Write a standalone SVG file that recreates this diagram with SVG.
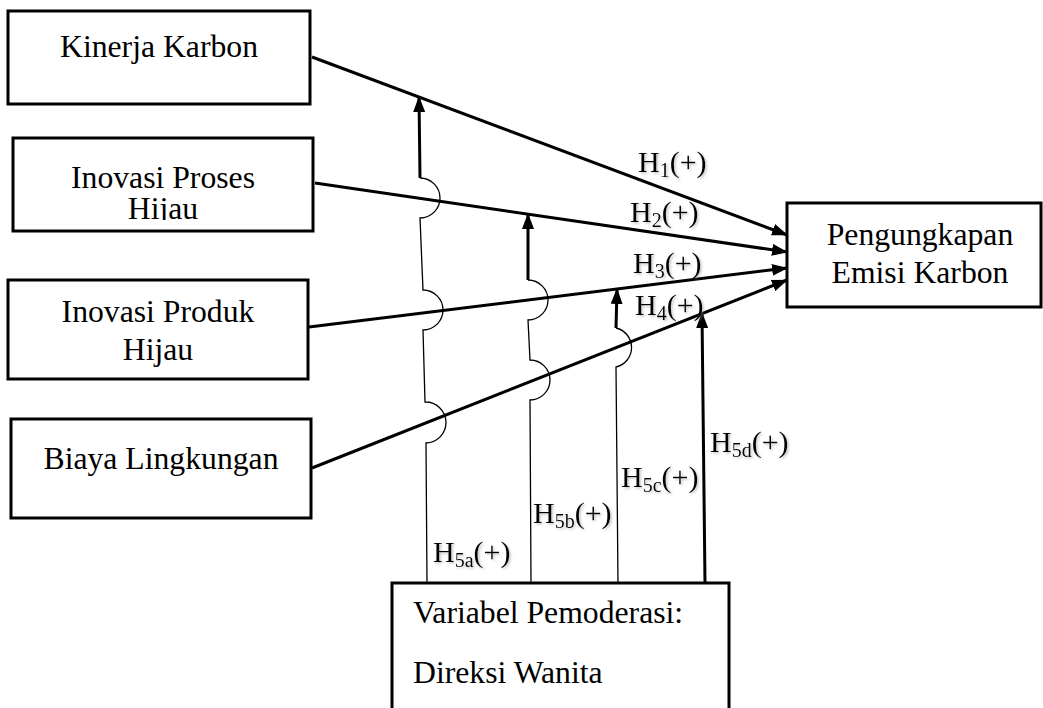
<svg xmlns="http://www.w3.org/2000/svg" width="1043" height="708" viewBox="0 0 1043 708">
<style>
.box{fill:#fff;stroke:#000;stroke-width:3}
text{font-family:'Liberation Serif','Tinos','Times New Roman','Noto Serif','DejaVu Serif',serif}
.t{font-size:31.7px;fill:#000}
.lbl{font-size:30px;fill:#000;filter:url(#sh)}
.sub{font-size:20px}
.thick{fill:none;stroke:#000;stroke-width:3}
.thin{fill:none;stroke:#000;stroke-width:1.3}
</style>
<defs>
<marker id="ah" viewBox="0 0 16 12" refX="15" refY="6" markerWidth="16" markerHeight="12" markerUnits="userSpaceOnUse" orient="auto">
<path d="M0,0 L16,6 L0,12 z" fill="#000"/>
</marker>
<filter id="sh" x="-10%" y="-10%" width="130%" height="140%">
<feDropShadow dx="1.5" dy="1.5" stdDeviation="1" flood-color="#888" flood-opacity="0.5"/>
</filter>
<clipPath id="clipHijau"><rect x="13" y="138" width="300" height="82"/></clipPath>
</defs>

<g id="node-kinerja">
<rect class="box" x="8" y="11" width="302" height="93"/>
<text class="t" x="159" y="57" text-anchor="middle">Kinerja Karbon</text>
</g>
<g id="node-proses">
<rect class="box" x="13" y="138" width="300" height="93"/>
<g clip-path="url(#clipHijau)">
<text class="t" x="163" y="188" text-anchor="middle">Inovasi Proses</text>
<text class="t" x="163" y="219" text-anchor="middle">Hijau</text>
</g>
</g>
<g id="node-produk">
<rect class="box" x="8" y="280" width="300" height="99"/>
<text class="t" x="158" y="322" text-anchor="middle">Inovasi Produk</text>
<text class="t" x="158" y="360" text-anchor="middle">Hijau</text>
</g>
<g id="node-biaya">
<rect class="box" x="11" y="419" width="300" height="99"/>
<text class="t" x="161" y="469" text-anchor="middle">Biaya Lingkungan</text>
</g>
<g id="node-emisi">
<rect class="box" x="787" y="203" width="254" height="104"/>
<text class="t" x="920" y="245" text-anchor="middle">Pengungkapan</text>
<text class="t" x="920" y="283" text-anchor="middle">Emisi Karbon</text>
</g>
<g id="node-moderator">
<path class="box" d="M392,712 L392,583 L729,583 L729,712"/>
<text class="t" x="413" y="623">Variabel Pemoderasi:</text>
<text class="t" x="413" y="683">Direksi Wanita</text>
</g>

<g id="connectors">
<line class="thick" x1="312" y1="57" x2="787" y2="235" marker-end="url(#ah)"/>
<line class="thick" x1="315" y1="183" x2="787" y2="252" marker-end="url(#ah)"/>
<line class="thick" x1="309" y1="327" x2="787" y2="268" marker-end="url(#ah)"/>
<line class="thick" x1="312" y1="468" x2="787" y2="280" marker-end="url(#ah)"/>

<path class="thin" d="M427,583 L426,443 A20,20 0 0,0 425,402 L423,330 A20,20 0 0,0 423,290 L420,218 A20,20 0 0,0 420,178"/>
<line class="thick" x1="420" y1="178" x2="419" y2="97" marker-end="url(#ah)"/>
<path class="thin" d="M531,583 L530,400 A20,20 0 0,0 530,360 L528,320 A20,20 0 0,0 528,280"/>
<line class="thick" x1="528" y1="280" x2="528" y2="214" marker-end="url(#ah)"/>
<path class="thin" d="M618,583 L616,367 A20,20 0 0,0 616,328"/>
<line class="thick" x1="616" y1="328" x2="617" y2="289" marker-end="url(#ah)"/>
<line class="thick" x1="705" y1="583" x2="702" y2="313" marker-end="url(#ah)"/>
</g>

<g id="labels">
<text class="lbl" x="638" y="172">H<tspan class="sub" dy="5">1</tspan><tspan dy="-5">(+)</tspan></text>
<text class="lbl" x="630" y="222">H<tspan class="sub" dy="5">2</tspan><tspan dy="-5">(+)</tspan></text>
<text class="lbl" x="633" y="273">H<tspan class="sub" dy="5">3</tspan><tspan dy="-5">(+)</tspan></text>
<text class="lbl" x="635" y="315">H<tspan class="sub" dy="5">4</tspan><tspan dy="-5">(+)</tspan></text>
<text class="lbl" x="433" y="562">H<tspan class="sub" dy="5">5a</tspan><tspan dy="-5">(+)</tspan></text>
<text class="lbl" x="533" y="523">H<tspan class="sub" dy="5">5b</tspan><tspan dy="-5">(+)</tspan></text>
<text class="lbl" x="621" y="487">H<tspan class="sub" dy="5">5c</tspan><tspan dy="-5">(+)</tspan></text>
<text class="lbl" x="710" y="452">H<tspan class="sub" dy="5">5d</tspan><tspan dy="-5">(+)</tspan></text>
</g>
</svg>
